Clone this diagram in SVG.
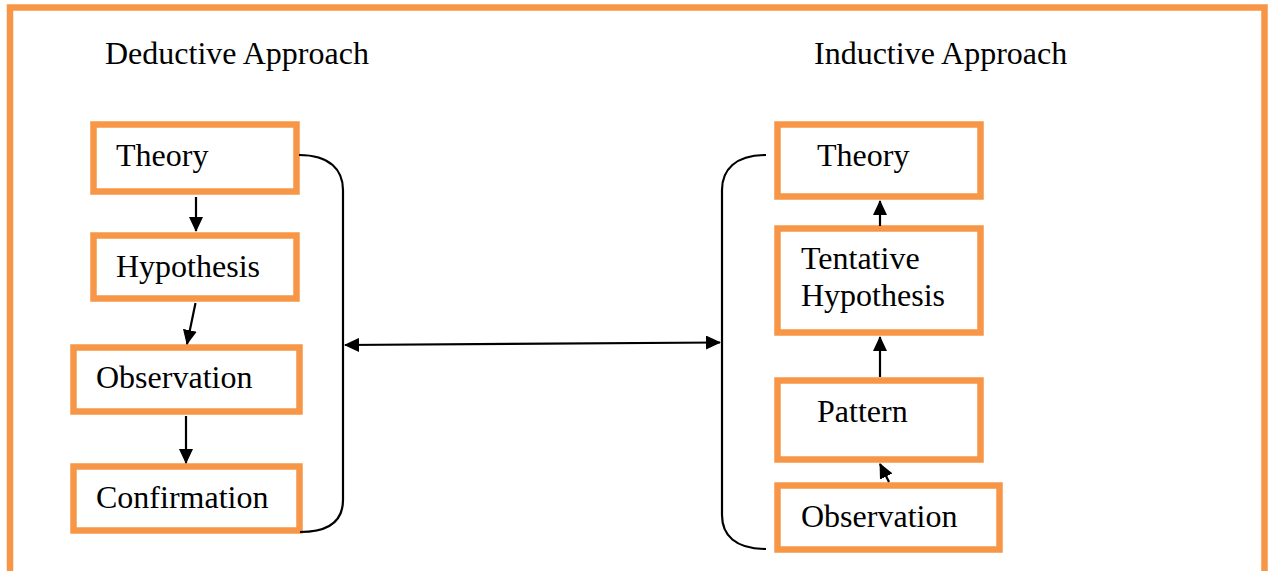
<svg xmlns="http://www.w3.org/2000/svg" width="1270" height="571" viewBox="0 0 1270 571">
<style>
.box{fill:#fff;stroke:#F79646;stroke-width:6.5}
.t{font-family:"Liberation Serif","Times New Roman",serif;font-size:32px;fill:#000}
.c{fill:none;stroke:#000;stroke-width:2.2}
</style>
<defs>
<marker id="ah" markerUnits="userSpaceOnUse" markerWidth="15" markerHeight="14" refX="14" refY="7" orient="auto-start-reverse">
<path d="M0,0 L15,7 L0,14 Z" fill="#000"/>
</marker>
</defs>
<rect width="1270" height="571" fill="#fff"/>
<path d="M10,580 L10,7.5 L1264.5,7.5 L1264.5,580" fill="none" stroke="#F79646" stroke-width="6.5"/>
<text class="t" x="105" y="64">Deductive Approach</text>
<text class="t" x="814" y="64">Inductive Approach</text>
<g id="d-theory"><rect class="box" x="93.5" y="124.5" width="203" height="67"/><text class="t" x="116" y="166">Theory</text></g>
<g id="d-hypothesis"><rect class="box" x="93.5" y="235.5" width="203" height="63"/><text class="t" x="116" y="277">Hypothesis</text></g>
<g id="d-observation"><rect class="box" x="73.5" y="347.5" width="226" height="64"/><text class="t" x="96" y="388">Observation</text></g>
<g id="d-confirmation"><rect class="box" x="73.5" y="466.5" width="226" height="64"/><text class="t" x="96" y="508">Confirmation</text></g>
<g id="i-theory"><rect class="box" x="777.5" y="124.5" width="203" height="72"/><text class="t" x="817" y="166">Theory</text></g>
<g id="i-tentative"><rect class="box" x="777.5" y="228.5" width="203" height="104"/><text class="t" x="801" y="269">Tentative</text><text class="t" x="801" y="306">Hypothesis</text></g>
<g id="i-pattern"><rect class="box" x="777.5" y="380.5" width="203" height="79"/><text class="t" x="817" y="422">Pattern</text></g>
<g id="i-observation"><rect class="box" x="777.5" y="485.5" width="222" height="64"/><text class="t" x="801" y="527">Observation</text></g>
<g id="connectors">
<line class="c" x1="196" y1="197" x2="196" y2="231" marker-end="url(#ah)"/>
<line class="c" x1="195.5" y1="303" x2="187" y2="344" marker-end="url(#ah)"/>
<line class="c" x1="186" y1="416" x2="186" y2="463" marker-end="url(#ah)"/>
<line class="c" x1="880" y1="226" x2="880" y2="201" marker-end="url(#ah)"/>
<line class="c" x1="880" y1="377" x2="880" y2="337" marker-end="url(#ah)"/>
<line class="c" x1="889" y1="482" x2="880" y2="464" marker-end="url(#ah)"/>
<path class="c" d="M299,155 C330,155 343,170 343,190 L343,500 C343,520 330,532 300,532"/>
<path class="c" d="M766,155 C735,155 722,170 722,190 L722,515 C722,535 735,549 766,549"/>
<line class="c" x1="345" y1="345" x2="720" y2="342.5" marker-start="url(#ah)" marker-end="url(#ah)"/>
</g>
</svg>
